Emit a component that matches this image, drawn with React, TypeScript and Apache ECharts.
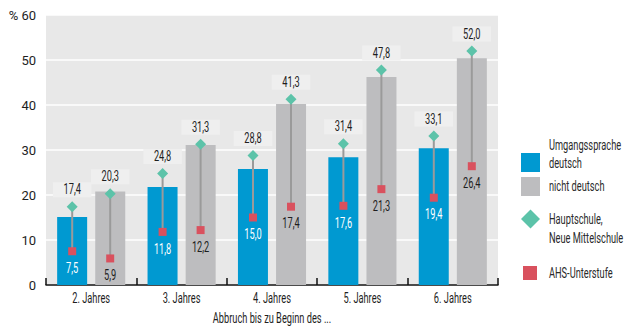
import React, { useEffect, useRef } from "react";
import * as echarts from "echarts";

const categories = ["2. Jahres", "3. Jahres", "4. Jahres", "5. Jahres", "6. Jahres"];
const yTicks = [0, 10, 20, 30, 40, 50, 60];
const deutschBar = [15.1, 21.8, 25.8, 28.4, 30.4];
const nichtDeutschBar = [20.8, 31.1, 40.2, 46.2, 50.4];
const hauptDeutsch = [17.4, 24.8, 28.8, 31.4, 33.1];
const hauptNicht = [20.3, 31.3, 41.3, 47.8, 52.0];
const ahsDeutsch = [7.5, 11.8, 15.0, 17.6, 19.4];
const ahsNicht = [5.9, 12.2, 17.4, 21.3, 26.4];

const FONT = "Roboto, 'DejaVu Sans', sans-serif";
const SQ = 0.66; // horizontal condensing of texts
const FS = 14;
const BLUE = "#0099d1";
const GRAY = "#bdbdbf";
const TEAL = "#5cc3a9";
const RED = "#d9515e";

const fmt = (v: number) => v.toFixed(1).replace(".", ",");

function makeDumbbell(high: number[], low: number[], offset: number, lowLabelColor: string) {
  return {
    type: "custom",
    z: 5,
    data: categories.map((_, i) => [i, high[i], low[i]]),
    encode: { x: 0, y: [1, 2] },
    renderItem: (params: any, api: any) => {
      const idx = api.value(0);
      const x = api.coord([idx, 0])[0] + offset;
      const yh = api.coord([idx, api.value(1)])[1];
      const yl = api.coord([idx, api.value(2)])[1];
      const d = 5.5;
      const s = 4;
      return {
        type: "group",
        children: [
          { type: "line", shape: { x1: x, y1: yh, x2: x, y2: yl }, style: { stroke: "#9a9a9a", lineWidth: 2 } },
          {
            type: "polygon",
            shape: { points: [[x, yh - d], [x + d, yh], [x, yh + d], [x - d, yh]] },
            style: { fill: TEAL },
          },
          { type: "rect", shape: { x: x - s, y: yl - s, width: 2 * s, height: 2 * s }, style: { fill: RED } },
          {
            type: "text",
            x: x,
            y: yh - 17,
            scaleX: SQ,
            style: {
              text: fmt(api.value(1)),
              fill: "#1e1e1e",
              font: `${FS}px ${FONT}`,
              align: "center",
              verticalAlign: "middle",
              backgroundColor: "#efefef",
              padding: [1, 16, 0, 16],
            },
          },
          {
            type: "text",
            x: x,
            y: yl + 17,
            scaleX: SQ,
            style: {
              text: fmt(api.value(2)),
              fill: lowLabelColor,
              font: `${FS}px ${FONT}`,
              align: "center",
              verticalAlign: "middle",
            },
          },
        ],
      };
    },
  };
}

export default function App() {
  const ref = useRef<HTMLDivElement>(null);
  useEffect(() => {
    if (!ref.current) return;
    const chart = echarts.init(ref.current, null, { renderer: "svg" });
    const legendText = (x: number, y: number, text: string) => ({
      type: "text",
      x,
      y,
      scaleX: SQ,
      style: { text, fill: "#2a2a2a", font: `${FS}px ${FONT}`, verticalAlign: "middle" },
    });
    chart.setOption({
      animation: false,
      backgroundColor: "#fff",
      grid: {
        left: 46,
        right: 140,
        top: 15,
        bottom: 41,
        show: true,
        backgroundColor: "#e8e8e8",
        borderWidth: 0,
      },
      xAxis: {
        type: "category",
        data: categories,
        axisLine: { lineStyle: { color: "#111", width: 1.5 } },
        axisTick: { show: true, inside: true, length: 7, lineStyle: { color: "#111", width: 1.5 } },
        axisLabel: { show: false },
      },
      yAxis: {
        type: "value",
        min: yTicks[0],
        max: yTicks[yTicks.length - 1],
        interval: 10,
        axisLine: { show: false },
        axisTick: { show: false },
        splitLine: { lineStyle: { color: "#ffffff", width: 1.5 } },
        axisLabel: {
          color: "#1e1e1e",
          fontFamily: FONT,
          fontSize: 13,
          margin: 10,
          formatter: (v: number) => (v === 60 ? "% 60" : String(v)),
        },
      },
      series: [
        {
          type: "bar",
          data: deutschBar,
          barWidth: 30,
          barGap: "27%",
          itemStyle: { color: BLUE },
          z: 2,
        },
        {
          type: "bar",
          data: nichtDeutschBar,
          barWidth: 30,
          barGap: "27%",
          itemStyle: { color: GRAY },
          z: 2,
        },
        makeDumbbell(hauptDeutsch, ahsDeutsch, -19, "#ffffff"),
        makeDumbbell(hauptNicht, ahsNicht, 19, "#1e1e1e"),
        {
          type: "custom",
          z: 5,
          silent: true,
          data: categories.map((c, i) => [i, 0]),
          encode: { x: 0, y: 1 },
          renderItem: (params: any, api: any) => {
            const p = api.coord([api.value(0), 0]);
            return {
              type: "text",
              x: p[0],
              y: p[1] + 13,
              scaleX: SQ,
              style: {
                text: categories[api.value(0)],
                fill: "#1e1e1e",
                font: `${FS}px ${FONT}`,
                align: "center",
                verticalAlign: "middle",
              },
            };
          },
        },
      ],
      graphic: [
        {
          type: "text",
          x: 272,
          y: 318,
          scaleX: SQ,
          style: {
            text: "Abbruch bis zu Beginn des ...",
            fill: "#1e1e1e",
            font: `${FS}px ${FONT}`,
            align: "center",
            verticalAlign: "middle",
          },
        },
        { type: "rect", shape: { x: 521, y: 153, width: 19, height: 19 }, style: { fill: BLUE } },
        legendText(549, 145, "Umgangssprache"),
        legendText(549, 163, "deutsch"),
        { type: "rect", shape: { x: 521, y: 177, width: 19, height: 19 }, style: { fill: GRAY } },
        legendText(549, 186, "nicht deutsch"),
        {
          type: "polygon",
          shape: { points: [[530.5, 209.5], [540, 219], [530.5, 228.5], [521, 219]] },
          style: { fill: TEAL },
        },
        legendText(549, 219, "Hauptschule,"),
        legendText(549, 238, "Neue Mittelschule"),
        { type: "rect", shape: { x: 523, y: 266, width: 14, height: 14 }, style: { fill: RED } },
        legendText(549, 273, "AHS-Unterstufe"),
      ],
    });
    return () => chart.dispose();
  }, []);
  return <div ref={ref} style={{ position: "fixed", left: 0, top: 0, width: 638, height: 326 }} />;
}
